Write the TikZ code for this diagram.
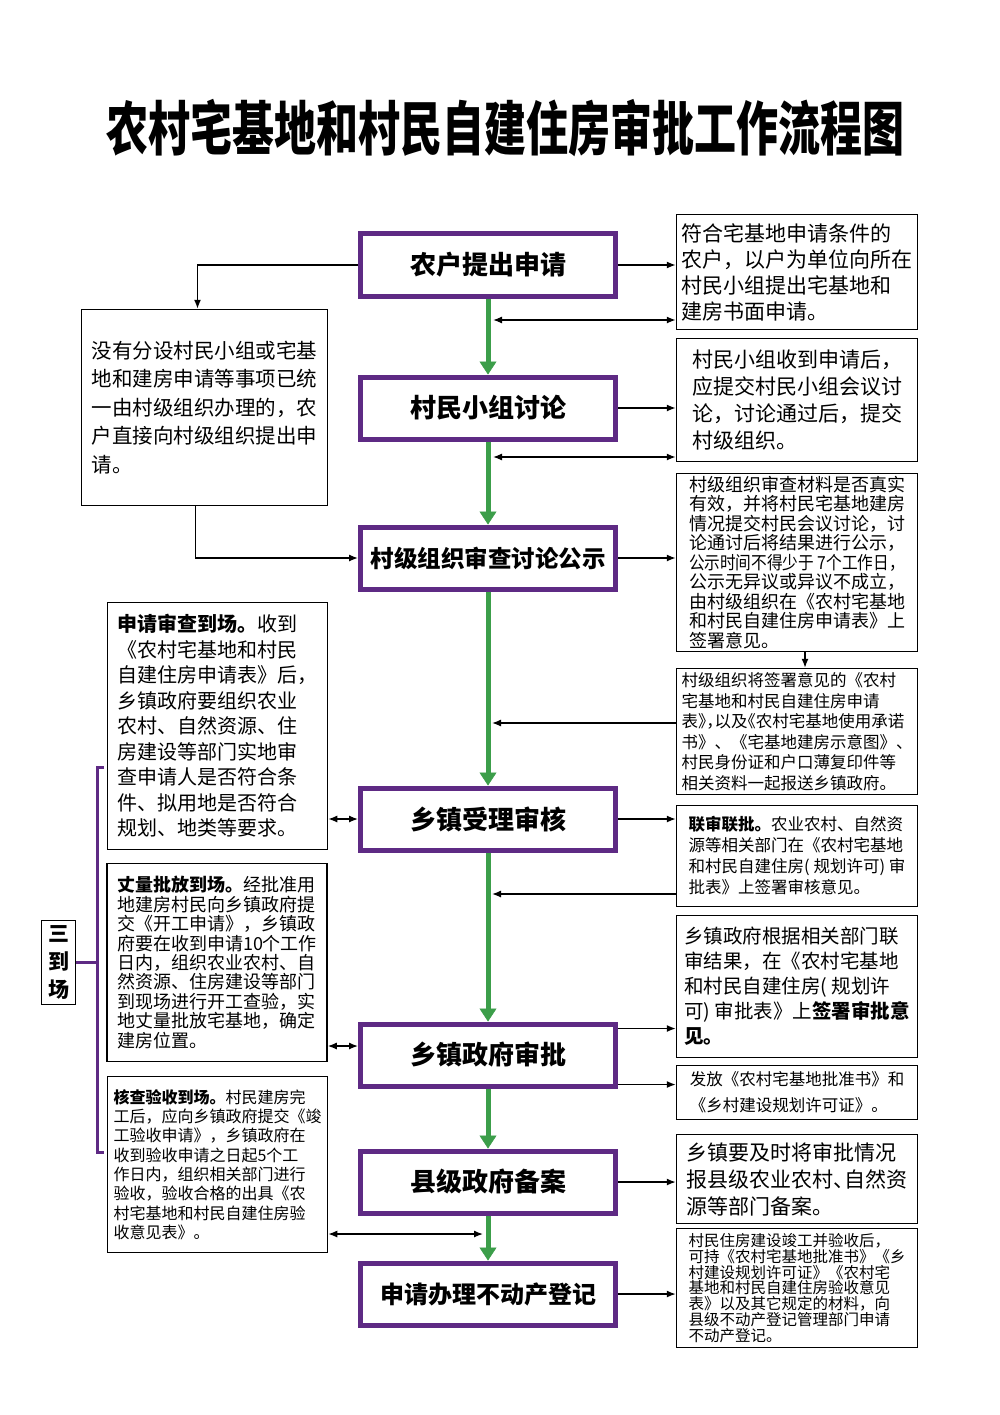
\documentclass[tikz,border=0pt]{standalone}
\usepackage{fontspec}
\usepackage{graphicx}
\setmainfont{Noto Sans CJK SC}
\newfontfamily\cjkhalt{Noto Sans CJK SC}[RawFeature=+halt]
\usetikzlibrary{arrows.meta}
\definecolor{stagepurple}{HTML}{5E2A84}
\definecolor{flowgreen}{HTML}{3C9E4A}

\begin{document}
\begin{tikzpicture}[x=1pt, y=-1pt,
  stage/.style={draw=stagepurple, line width=5pt, minimum width=255pt, minimum height=62pt, inner sep=0pt, font=\bfseries\fontsize{26}{30}\selectfont},
  note/.style={draw=black, line width=1.5pt, inner sep=0pt, align=left},
  flow/.style={draw=flowgreen, line width=5pt, -{Triangle[length=13pt, width=17pt, line width=0.5pt]}},
  link/.style={line width=1.3pt, -{Latex[length=9pt, width=7pt]}},
  twoway/.style={line width=1.3pt, {Latex[length=9pt, width=7pt]}-{Latex[length=9pt, width=7pt]}}]
\useasboundingbox (0,0) rectangle (1000,1415);
\fill[white] (0,0) rectangle (1000,1415);

% Title
\node (title) at (505,128) {\scalebox{1}[1.4]{\bfseries\fontsize{42}{42}\selectfont 农村宅基地和村民自建住房审批工作流程图}};

% Main steps
\node[stage] (apply) at (488,265) {农户提出申请};
\node[stage] (group) at (488,408) {村民小组讨论};
\node[stage, font=\bfseries\fontsize{23.5}{28}\selectfont] (village) at (488,558) {村级组织审查讨论公示};
\node[stage] (accept) at (488,819) {乡镇受理审核};
\node[stage] (approve) at (488,1055) {乡镇政府审批};
\node[stage] (county) at (488,1182) {县级政府备案};
\node[stage, font=\bfseries\fontsize{24}{28}\selectfont] (estate) at (488,1294) {申请办理不动产登记};

% Right notes
\node[note, minimum width=241pt, minimum height=115pt, font=\fontsize{21}{26}\selectfont] (rapply) at (797,272)
  {符合宅基地申请条件的\\农户，以户为单位向所在\\村民小组提出宅基地和\\建房书面申请。};
\node[note, minimum width=241pt, minimum height=123pt, font=\fontsize{21}{27}\selectfont] (rgroup) at (797,400)
  {村民小组收到申请后，\\应提交村民小组会议讨\\论，讨论通过后，提交\\村级组织。};
\node[note, minimum width=241pt, minimum height=178pt, font=\fontsize{18}{19.5}\selectfont] (rvillage) at (797,562.5)
  {村级组织审查材料是否真实\\有效，并将村民宅基地建房\\情况提交村民会议讨论，讨\\论通讨后将结果进行公示，\\\scalebox{0.87}[1]{公示时间不得少于 7个工作日，}\\公示无异议或异议不成立，\\由村级组织在《农村宅基地\\和村民自建住房申请表》上\\签署意见。};
\node[note, minimum width=241pt, minimum height=126pt, font=\fontsize{16.5}{20.5}\selectfont] (rsend) at (797,731.5)
  {村级组织将签署意见的《农村\\宅基地和村民自建住房申请\\{\cjkhalt 表》，以及《农村宅基地使用承诺}\\书》、《宅基地建房示意图》、\\村民身份证和户口薄复印件等\\相关资料一起报送乡镇政府。};
\node[note, minimum width=241pt, minimum height=101pt, font=\fontsize{16.5}{21}\selectfont] (rjoint) at (797,856)
  {\textbf{联审联批。}农业农村、自然资\\源等相关部门在《农村宅基地\\和村民自建住房( 规划许可) 审\\批表》上签署审核意见。};
\node[note, minimum width=241pt, minimum height=142pt, font=\fontsize{19.5}{25}\selectfont] (rsign) at (797,986.5)
  {乡镇政府根据相关部门联\\审结果，在《农村宅基地\\和村民自建住房( 规划许\\可) 审批表》上\textbf{签署审批意}\\\textbf{见。}};
\node[note, minimum width=241pt, minimum height=54pt, font=\fontsize{16.5}{26}\selectfont] (rissue) at (797,1092.5)
  {发放《农村宅基地批准书》和\\《乡村建设规划许可证》。};
\node[note, minimum width=241pt, minimum height=89pt, font=\fontsize{21}{27}\selectfont] (rcounty) at (797,1179)
  {乡镇要及时将审批情况\\{\cjkhalt 报县级农业农村、自然资}\\源等部门备案。};
\node[note, minimum width=241pt, minimum height=119pt, font=\fontsize{15.5}{15.8}\selectfont] (restate) at (797,1288)
  {村民住房建设竣工并验收后，\\可持《农村宅基地批准书》《乡\\村建设规划许可证》《农村宅\\基地和村民自建住房验收意见\\表》以及其它规定的材料，向\\县级不动产登记管理部门申请\\不动产登记。};

% Left notes
\node[note, minimum width=246pt, minimum height=196pt, font=\fontsize{20.5}{28.5}\selectfont] (direct) at (204.5,407.5)
  {没有分设村民小组或宅基\\地和建房申请等事项已统\\一由村级组织办理的，农\\户直接向村级组织提出申\\请。};
\node[note, minimum width=220pt, minimum height=247pt, font=\fontsize{20}{25.5}\selectfont] (review) at (217.5,726)
  {\textbf{申请审查到场。}收到\\《农村宅基地和村民\\自建住房申请表》后，\\乡镇政府要组织农业\\农村、自然资源、住\\房建设等部门实地审\\查申请人是否符合条\\件、拟用地是否符合\\规划、地类等要求。};
\node[note, minimum width=220pt, minimum height=198pt, font=\fontsize{18}{19.4}\selectfont] (measure) at (217,962.5)
  {\textbf{丈量批放到场。}经批准用\\地建房村民向乡镇政府提\\交《开工申请》，乡镇政\\府要在收到申请10个工作\\日内，组织农业农村、自\\然资源、住房建设等部门\\到现场进行开工查验，实\\地丈量批放宅基地，确定\\建房位置。};
\node[note, minimum width=220pt, minimum height=176pt, font=\fontsize{16}{19.3}\selectfont] (check) at (217.5,1164.5)
  {\textbf{核查验收到场。}村民建房完\\工后，应向乡镇政府提交《竣\\工验收申请》，乡镇政府在\\收到验收申请之日起5个工\\作日内，组织相关部门进行\\验收，验收合格的出具《农\\村宅基地和村民自建住房验\\收意见表》。};
\node[note, minimum width=34pt, minimum height=84pt, align=center, font=\bfseries\fontsize{21}{28}\selectfont] (three) at (58.5,962.5)
  {三\\到\\场};

% Green flow
\draw[flow] (apply) -- (group);
\draw[flow] (group) -- (village);
\draw[flow] (village) -- (accept);
\draw[flow] (accept) -- (approve);
\draw[flow] (approve) -- (county);
\draw[flow] (county) -- (estate);

% Arrows to the right notes
\draw[link] (apply.east) -- (apply.east -| rapply.west);
\draw[link] (group.east) -- (group.east -| rgroup.west);
\draw[link] (village.east) -- (village.east -| rvillage.west);
\draw[link] (accept.east) -- (accept.east -| rjoint.west);
\draw[link] ([yshift=-7pt]approve.north east) -- ([yshift=-7pt]approve.north east -| rsign.west);
\draw[link] ([yshift=4pt]approve.south east) -- ([yshift=4pt]approve.south east -| rissue.west);
\draw[link] (county.east) -- (county.east -| rcounty.west);
\draw[link] (estate.east) -- (estate.east -| restate.west);
\draw[link] ([xshift=8pt]rvillage.south) -- ([xshift=8pt]rsend.north);

% Arrows back to the flow line
\coordinate (back1) at (493,320);
\coordinate (back2) at (493,457);
\coordinate (back3) at (492,723);
\coordinate (back4) at (492,894);
\coordinate (back5) at (483,1234);
\draw[twoway] (back1) -- (back1 -| rapply.west);
\draw[twoway] (back2) -- (back2 -| rgroup.west);
\draw[link] (back3 -| rsend.west) -- (back3);
\draw[link] (back4 -| rjoint.west) -- (back4);
\draw[twoway] (back5 -| check.east) -- (back5);

% Left route
\draw[link] (apply.west) -| ([xshift=-7pt]direct.north);
\draw[link] ([xshift=-9pt]direct.south) |- (village.west);
\draw[twoway] (review.east |- accept.west) -- (accept.west);
\draw[twoway] ([yshift=9pt]measure.east |- approve.west) -- ([yshift=9pt]approve.west);

% Bracket
\draw[stagepurple, line width=3pt] (104,767) -- (97,767) -- (97,1152) -- (104,1152);
\draw[stagepurple, line width=3pt] (three.east) -- (three.east -| 97,0);
\end{tikzpicture}
\end{document}
